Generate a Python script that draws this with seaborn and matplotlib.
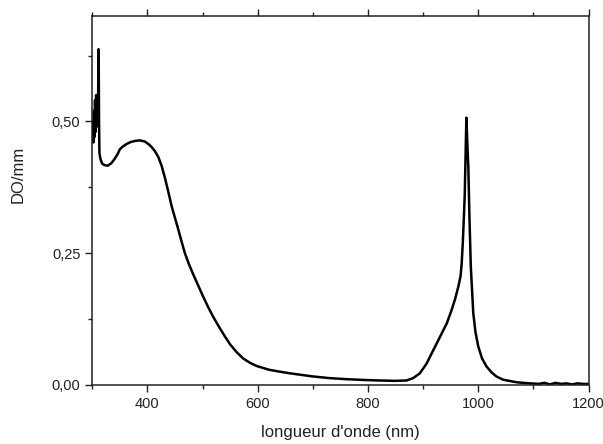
import matplotlib
matplotlib.use("Agg")
import matplotlib.pyplot as plt
import matplotlib.ticker as mticker
import seaborn as sns
import pandas as pd

# absorption spectrum, values
wavelength = [300, 301, 302, 303, 304, 305, 306, 307, 308, 309, 310, 311, 311.6, 312.3, 313,
              315, 318, 322, 328, 334, 340, 346, 350, 355, 362, 370, 378, 386, 395, 402,
              408, 414, 420, 426, 432, 438, 444, 450, 456, 462, 468, 475, 483, 492, 501,
              510, 520, 530, 540, 550, 562, 574, 586, 598, 620, 641, 659, 680, 701, 730,
              760, 792, 820, 850, 870, 882, 894, 906, 918, 931, 943, 952, 958, 964, 968,
              970, 972, 974, 975.5, 976.6, 977.5, 978.5, 979.5, 980.5, 982, 984, 986.5, 991, 995,
              1000, 1007, 1015, 1024, 1033, 1045, 1070, 1094, 1110, 1120,
              1130, 1140, 1150, 1160, 1170, 1180, 1190, 1200]
do_mm = [0.47, 0.50, 0.46, 0.52, 0.47, 0.54, 0.48, 0.55, 0.49, 0.54, 0.50, 0.58, 0.637, 0.50, 0.44,
         0.428, 0.420, 0.417, 0.416, 0.420, 0.428, 0.438, 0.447, 0.452, 0.457, 0.461, 0.463, 0.464, 0.462, 0.457,
         0.451, 0.443, 0.432, 0.415, 0.392, 0.366, 0.339, 0.317, 0.295, 0.272, 0.250, 0.230, 0.210, 0.189, 0.168,
         0.148, 0.128, 0.110, 0.093, 0.077, 0.062, 0.050, 0.042, 0.036, 0.029, 0.025, 0.022, 0.019, 0.016, 0.013,
         0.011, 0.0095, 0.0085, 0.0078, 0.0085, 0.013, 0.022, 0.040, 0.065, 0.092, 0.117, 0.143, 0.163, 0.187, 0.207,
         0.231, 0.27, 0.32, 0.36, 0.415, 0.46, 0.507, 0.48, 0.45, 0.415, 0.32, 0.225, 0.136, 0.100,
         0.073, 0.050, 0.035, 0.024, 0.016, 0.010, 0.005, 0.003, 0.002, 0.004,
         0.001, 0.004, 0.002, 0.003, 0.001, 0.003, 0.002, 0.002]

df = pd.DataFrame({"wl": wavelength, "do": do_mm})

sns.set_theme(style="white")
plt.rcParams["font.family"] = ["Liberation Sans", "DejaVu Sans"]

fig, ax = plt.subplots(figsize=(6.03, 4.44), dpi=100)
fig.subplots_adjust(left=0.153, right=0.976, bottom=0.133, top=0.964)

sns.lineplot(data=df, x="wl", y="do", color="black", linewidth=1.8, estimator=None, sort=False, ax=ax)

ax.set_xlim(300, 1200)
ax.set_ylim(0, 0.70)
ax.xaxis.set_major_locator(mticker.MultipleLocator(200))
ax.xaxis.set_minor_locator(mticker.MultipleLocator(100))
ax.yaxis.set_major_locator(mticker.MultipleLocator(0.25))
ax.yaxis.set_minor_locator(mticker.MultipleLocator(0.125))
ax.yaxis.set_major_formatter(mticker.FuncFormatter(lambda v, p: f"{v:.2f}".replace(".", ",")))
ax.xaxis.set_major_formatter(mticker.FuncFormatter(lambda v, p: "" if v < 350 else f"{v:.0f}"))

ax.tick_params(axis="x", which="both", direction="out", top=True, bottom=True, labeltop=False,
               colors="#222222", labelsize=10.5)
ax.tick_params(axis="y", which="both", direction="out", left=True, right=False,
               colors="#222222", labelsize=10.5)
ax.tick_params(which="major", length=5, width=1)
ax.tick_params(which="minor", length=3, width=1)

for s in ax.spines.values():
    s.set_color("#222222")
    s.set_linewidth(1.1)

ax.set_xlabel("longueur d'onde (nm)", fontsize=12, color="#222222")
ax.set_ylabel("DO/mm", fontsize=12, color="#222222")
ax.yaxis.set_label_coords(-0.135, 0.57)
ax.xaxis.set_label_coords(0.5, -0.108)

fig.savefig("out.png", dpi=100)
